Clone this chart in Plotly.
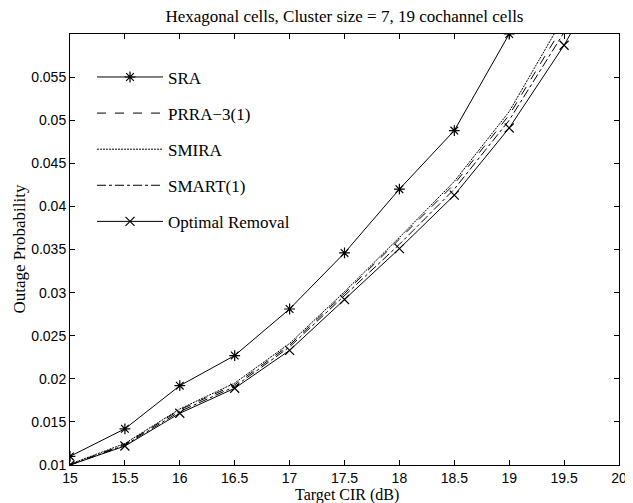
import plotly.graph_objects as go

cir = [15, 15.5, 16, 16.5, 17, 17.5, 18, 18.5, 19, 19.5, 20]
sra = [0.0110, 0.0142, 0.0192, 0.0227, 0.0281, 0.0346, 0.0420, 0.0488, 0.0600, 0.0720, 0.0860]
prra = [0.0100, 0.0124, 0.0164, 0.0193, 0.0239, 0.0299, 0.0362, 0.0426, 0.0506, 0.0611, 0.0730]
smira = [0.0101, 0.0125, 0.0165, 0.0195, 0.0241, 0.0301, 0.0364, 0.0429, 0.0510, 0.0620, 0.0740]
smart = [0.0100, 0.0123, 0.0162, 0.0191, 0.0237, 0.0296, 0.0356, 0.0420, 0.0500, 0.0602, 0.0720]
optimal = [0.0100, 0.0122, 0.0160, 0.0189, 0.0233, 0.0292, 0.0351, 0.0413, 0.0491, 0.0587, 0.0700]

xticks = [15, 15.5, 16, 16.5, 17, 17.5, 18, 18.5, 19, 19.5, 20]
xticktext = ["15", "15.5", "16", "16.5", "17", "17.5", "18", "18.5", "19", "19.5", "20"]
yticks = [0.01, 0.015, 0.02, 0.025, 0.03, 0.035, 0.04, 0.045, 0.05, 0.055]
yticktext = ["0.01", "0.015", "0.02", "0.025", "0.03", "0.035", "0.04", "0.045", "0.05", "0.055"]

series = [
    ("SRA", sra, "solid", "lines+markers", "asterisk-open"),
    ("PRRA\u22123(1)", prra, "dash", "lines", None),
    ("SMIRA", smira, "2px,1px", "lines", None),
    ("SMART(1)", smart, "dashdot", "lines", None),
    ("Optimal Removal", optimal, "solid", "lines+markers", "x-thin-open"),
]

fig = go.Figure()
for i, (name, ys, dash, mode, sym) in enumerate(series):
    kw = dict(x=cir, y=ys, name=name, mode=mode, legendgroup=str(i),
              line=dict(color="black", width=1, dash=dash))
    if sym:
        kw["marker"] = dict(symbol=sym, size=9, color="black",
                            line=dict(color="black", width=1.2))
    fig.add_trace(go.Scatter(**kw))

axis_common = dict(showgrid=False, zeroline=False, showline=True, linecolor="black",
                   linewidth=1, mirror="ticks", ticks="inside", ticklen=5, automargin=False,
                   tickcolor="black", tickfont=dict(family="Liberation Sans", size=14, color="black"))

fig.update_xaxes(range=[15, 20], tickvals=xticks, ticktext=xticktext, **axis_common)
fig.update_yaxes(range=[0.01, 0.06], tickvals=yticks, ticktext=yticktext, **axis_common)

W, H = 625, 495
L, R, T, B = 62, 14, 26, 38
plot_w = W - L - R
plot_h = H - T - B

fig.update_layout(
    width=W, height=H,
    margin=dict(l=L, r=R, t=T, b=B),
    paper_bgcolor="white", plot_bgcolor="white",
    title=dict(text="Hexagonal cells, Cluster size = 7, 19 cochannel cells",
               font=dict(family="Liberation Serif", size=17, color="black"),
               x=(L + plot_w / 2) / W, xanchor="center", y=1 - 8 / H, yanchor="middle"),
    showlegend=True,
    legend=dict(x=0.0401, y=0.941, xanchor="left", yanchor="top",
                bgcolor="rgba(0,0,0,0)", borderwidth=0, itemwidth=66,
                tracegroupgap=11,
                font=dict(family="Liberation Serif", size=17, color="black")),
    annotations=[
        dict(text="Target CIR (dB)", xref="paper", yref="paper", x=0.505, y=-29.5 / plot_h,
             xanchor="center", yanchor="middle", showarrow=False,
             font=dict(family="Liberation Serif", size=16, color="black")),
        dict(text="Outage Probability", xref="paper", yref="paper", x=-51 / plot_w, y=0.5,
             xanchor="center", yanchor="middle", showarrow=False, textangle=-90,
             font=dict(family="Liberation Serif", size=17, color="black")),
    ],
)

fig.write_html("out.html")
